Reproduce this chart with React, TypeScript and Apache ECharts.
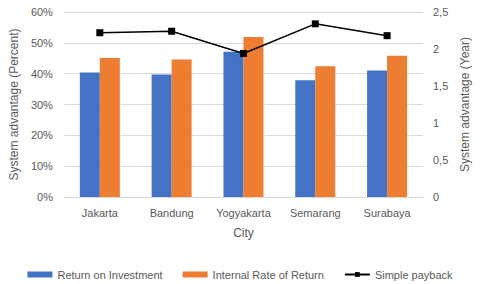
import React, { useEffect, useRef } from "react";
import * as echarts from "echarts";

const cities = ["Jakarta", "Bandung", "Yogyakarta", "Semarang", "Surabaya"];
const roi = [40.4, 39.7, 47.1, 37.9, 41.0];
const irr = [45.1, 44.6, 51.9, 42.4, 45.8];
const payback = [2.22, 2.24, 1.94, 2.34, 2.18];

const FONT = "Liberation Sans";
const GRAY = "#595959";

export default function App() {
  const ref = useRef<HTMLDivElement>(null);
  useEffect(() => {
    document.body.style.margin = "0";
    if (!ref.current) return;
    const chart = echarts.init(ref.current, undefined, { renderer: "svg" });
    chart.setOption({
      animation: false,
      textStyle: { fontFamily: FONT, color: GRAY },
      grid: { left: 61, right: 57, top: 12, bottom: 87 },
      legend: {
        top: 264,
        left: "center",
        itemWidth: 25,
        itemHeight: 6,
        itemGap: 20,
        textStyle: { fontFamily: FONT, fontSize: 11, color: GRAY },
        data: [
          { name: "Return on Investment", icon: "rect" },
          { name: "Internal Rate of Return", icon: "rect" },
          { name: "Simple payback" },
        ],
      },
      xAxis: {
        type: "category",
        data: cities,
        name: "City",
        nameLocation: "middle",
        nameGap: 30,
        nameTextStyle: { fontFamily: FONT, fontSize: 12, color: GRAY },
        axisLine: { lineStyle: { color: "#d9d9d9" } },
        axisTick: { show: false },
        axisLabel: { fontFamily: FONT, fontSize: 11, color: GRAY, margin: 10 },
      },
      yAxis: [
        {
          type: "value",
          min: 0,
          max: 60,
          interval: 10,
          name: "System advantage (Percent)",
          nameLocation: "middle",
          nameGap: 36,
          nameTextStyle: { fontFamily: FONT, fontSize: 12, color: GRAY },
          axisLabel: { formatter: "{value}%", fontFamily: FONT, fontSize: 11, color: GRAY, margin: 11 },
          splitLine: { lineStyle: { color: "#d9d9d9" } },
          axisLine: { show: false },
          axisTick: { show: false },
        },
        {
          type: "value",
          min: 0,
          max: 2.5,
          interval: 0.5,
          name: "System advantage (Year)",
          nameLocation: "middle",
          nameGap: 33,
          nameTextStyle: { fontFamily: FONT, fontSize: 12, color: GRAY },
          axisLabel: {
            formatter: (v: number) => String(v).replace(".", ","),
            fontFamily: FONT,
            fontSize: 11,
            color: GRAY,
            margin: 10,
          },
          splitLine: { show: false },
          axisLine: { show: false },
          axisTick: { show: false },
        },
      ],
      series: [
        {
          name: "Return on Investment",
          type: "bar",
          data: roi,
          itemStyle: { color: "#4472C4" },
          barWidth: 20,
          barGap: "0%",
        },
        {
          name: "Internal Rate of Return",
          type: "bar",
          data: irr,
          itemStyle: { color: "#ED7D31" },
          barWidth: 20,
          barGap: "0%",
        },
        {
          name: "Simple payback",
          type: "line",
          yAxisIndex: 1,
          data: payback,
          symbol: "rect",
          symbolSize: 7,
          itemStyle: { color: "#000" },
          lineStyle: { color: "#000", width: 1.5 },
        },
      ],
    });
    return () => chart.dispose();
  }, []);
  return <div ref={ref} style={{ width: 480, height: 284 }} />;
}
